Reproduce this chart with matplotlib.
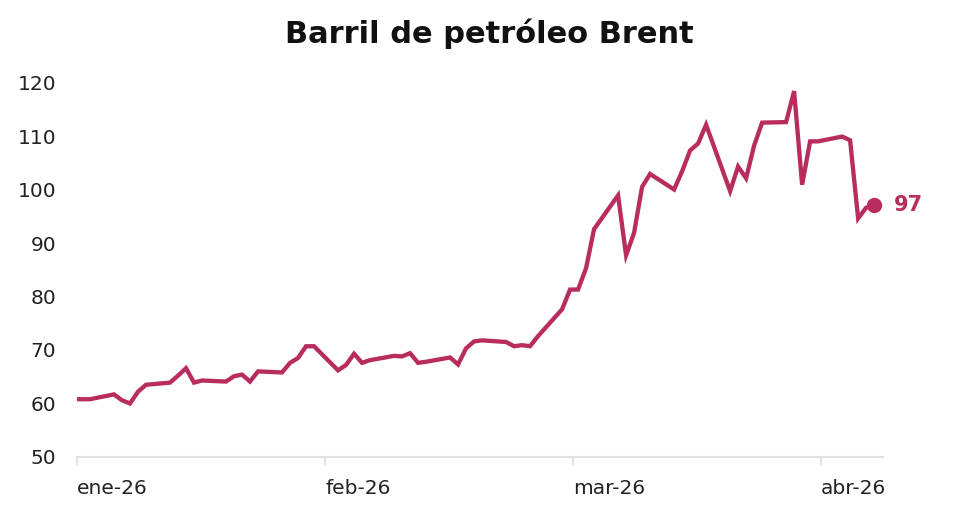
import matplotlib
matplotlib.use("Agg")
import matplotlib.pyplot as plt
import matplotlib.dates as mdates
import pandas as pd

dates = [
    "2025-12-31", "2026-01-02", "2026-01-05", "2026-01-06", "2026-01-07", "2026-01-08", "2026-01-09",
    "2026-01-12", "2026-01-13", "2026-01-14", "2026-01-15", "2026-01-16",
    "2026-01-19", "2026-01-20", "2026-01-21", "2026-01-22", "2026-01-23",
    "2026-01-26", "2026-01-27", "2026-01-28", "2026-01-29", "2026-01-30",
    "2026-02-02", "2026-02-03", "2026-02-04", "2026-02-05", "2026-02-06",
    "2026-02-09", "2026-02-10", "2026-02-11", "2026-02-12", "2026-02-13",
    "2026-02-16", "2026-02-17", "2026-02-18", "2026-02-19", "2026-02-20",
    "2026-02-23", "2026-02-24", "2026-02-25", "2026-02-26", "2026-02-27",
    "2026-03-02", "2026-03-03", "2026-03-04", "2026-03-05", "2026-03-06",
    "2026-03-09", "2026-03-10", "2026-03-11", "2026-03-12", "2026-03-13",
    "2026-03-16", "2026-03-17", "2026-03-18", "2026-03-19", "2026-03-20",
    "2026-03-23", "2026-03-24", "2026-03-25", "2026-03-26", "2026-03-27",
    "2026-03-30", "2026-03-31", "2026-04-01", "2026-04-02", "2026-04-03",
    "2026-04-06", "2026-04-07", "2026-04-08", "2026-04-09", "2026-04-10",
]
brent = [
    60.8, 60.8, 61.7, 60.6, 60.0, 62.2, 63.5,
    63.9, 65.2, 66.6, 63.9, 64.3,
    64.1, 65.1, 65.4, 64.1, 66.0,
    65.8, 67.6, 68.5, 70.7, 70.7,
    66.2, 67.2, 69.3, 67.6, 68.1,
    68.9, 68.8, 69.4, 67.6, 67.8,
    68.6, 67.3, 70.3, 71.6, 71.8,
    71.5, 70.7, 70.9, 70.7, 72.6,
    77.6, 81.3, 81.3, 85.3, 92.6,
    98.9, 87.7, 91.9, 100.5, 102.9,
    100.0, 103.4, 107.3, 108.6, 112.1,
    99.7, 104.3, 102.1, 108.2, 112.5,
    112.6, 118.4, 100.9, 109.0, 109.0,
    109.9, 109.2, 94.6, 96.6, 97.1,
]
tick_labels = ["ene-26", "feb-26", "mar-26", "abr-26"]
last_label = "97"
title = "Barril de petróleo Brent"

color = "#B82C5E"
plt.rcParams["font.family"] = ["DejaVu Sans"]

x = mdates.date2num(pd.to_datetime(dates).to_pydatetime())

fig = plt.figure(figsize=(9.54, 5.19), dpi=100)
ax = fig.add_axes([0.0807, 0.1195, 0.845, 0.7215])

ax.plot(x, brent, color=color, lw=3.1, solid_joinstyle="miter", solid_capstyle="butt")
ax.plot(x[-1], brent[-1], "o", color=color, ms=10, clip_on=False)
ax.annotate(last_label, (x[-1], brent[-1]), xytext=(14, 0), textcoords="offset points",
            ha="left", va="center", fontsize=15, fontweight="bold", color=color,
            annotation_clip=False)

left = x[0] + 0.375
ax.set_xlim(left, left + 100.75)
ax.set_ylim(50, 120)
ax.set_xticks([left + k * 31 for k in range(len(tick_labels))])
ax.set_xticklabels(tick_labels, ha="left")
for lbl in ax.get_xticklabels():
    lbl.set_x(lbl.get_position()[0])
ax.set_yticks(range(50, 121, 10))

for s in ["top", "right", "left"]:
    ax.spines[s].set_visible(False)
ax.spines["bottom"].set_color("#e2e2e2")
ax.spines["bottom"].set_linewidth(1.5)
ax.tick_params(axis="x", length=6, width=1.5, color="#e2e2e2", labelsize=14.5,
               labelcolor="#222222", pad=10)
ax.tick_params(axis="y", length=0, labelsize=14.5, labelcolor="#222222", pad=15)

fig.text(0.513, 0.935, title, ha="center", va="center", fontsize=22, fontweight="bold",
         color="#111111")

fig.savefig("out.png", dpi=100)
